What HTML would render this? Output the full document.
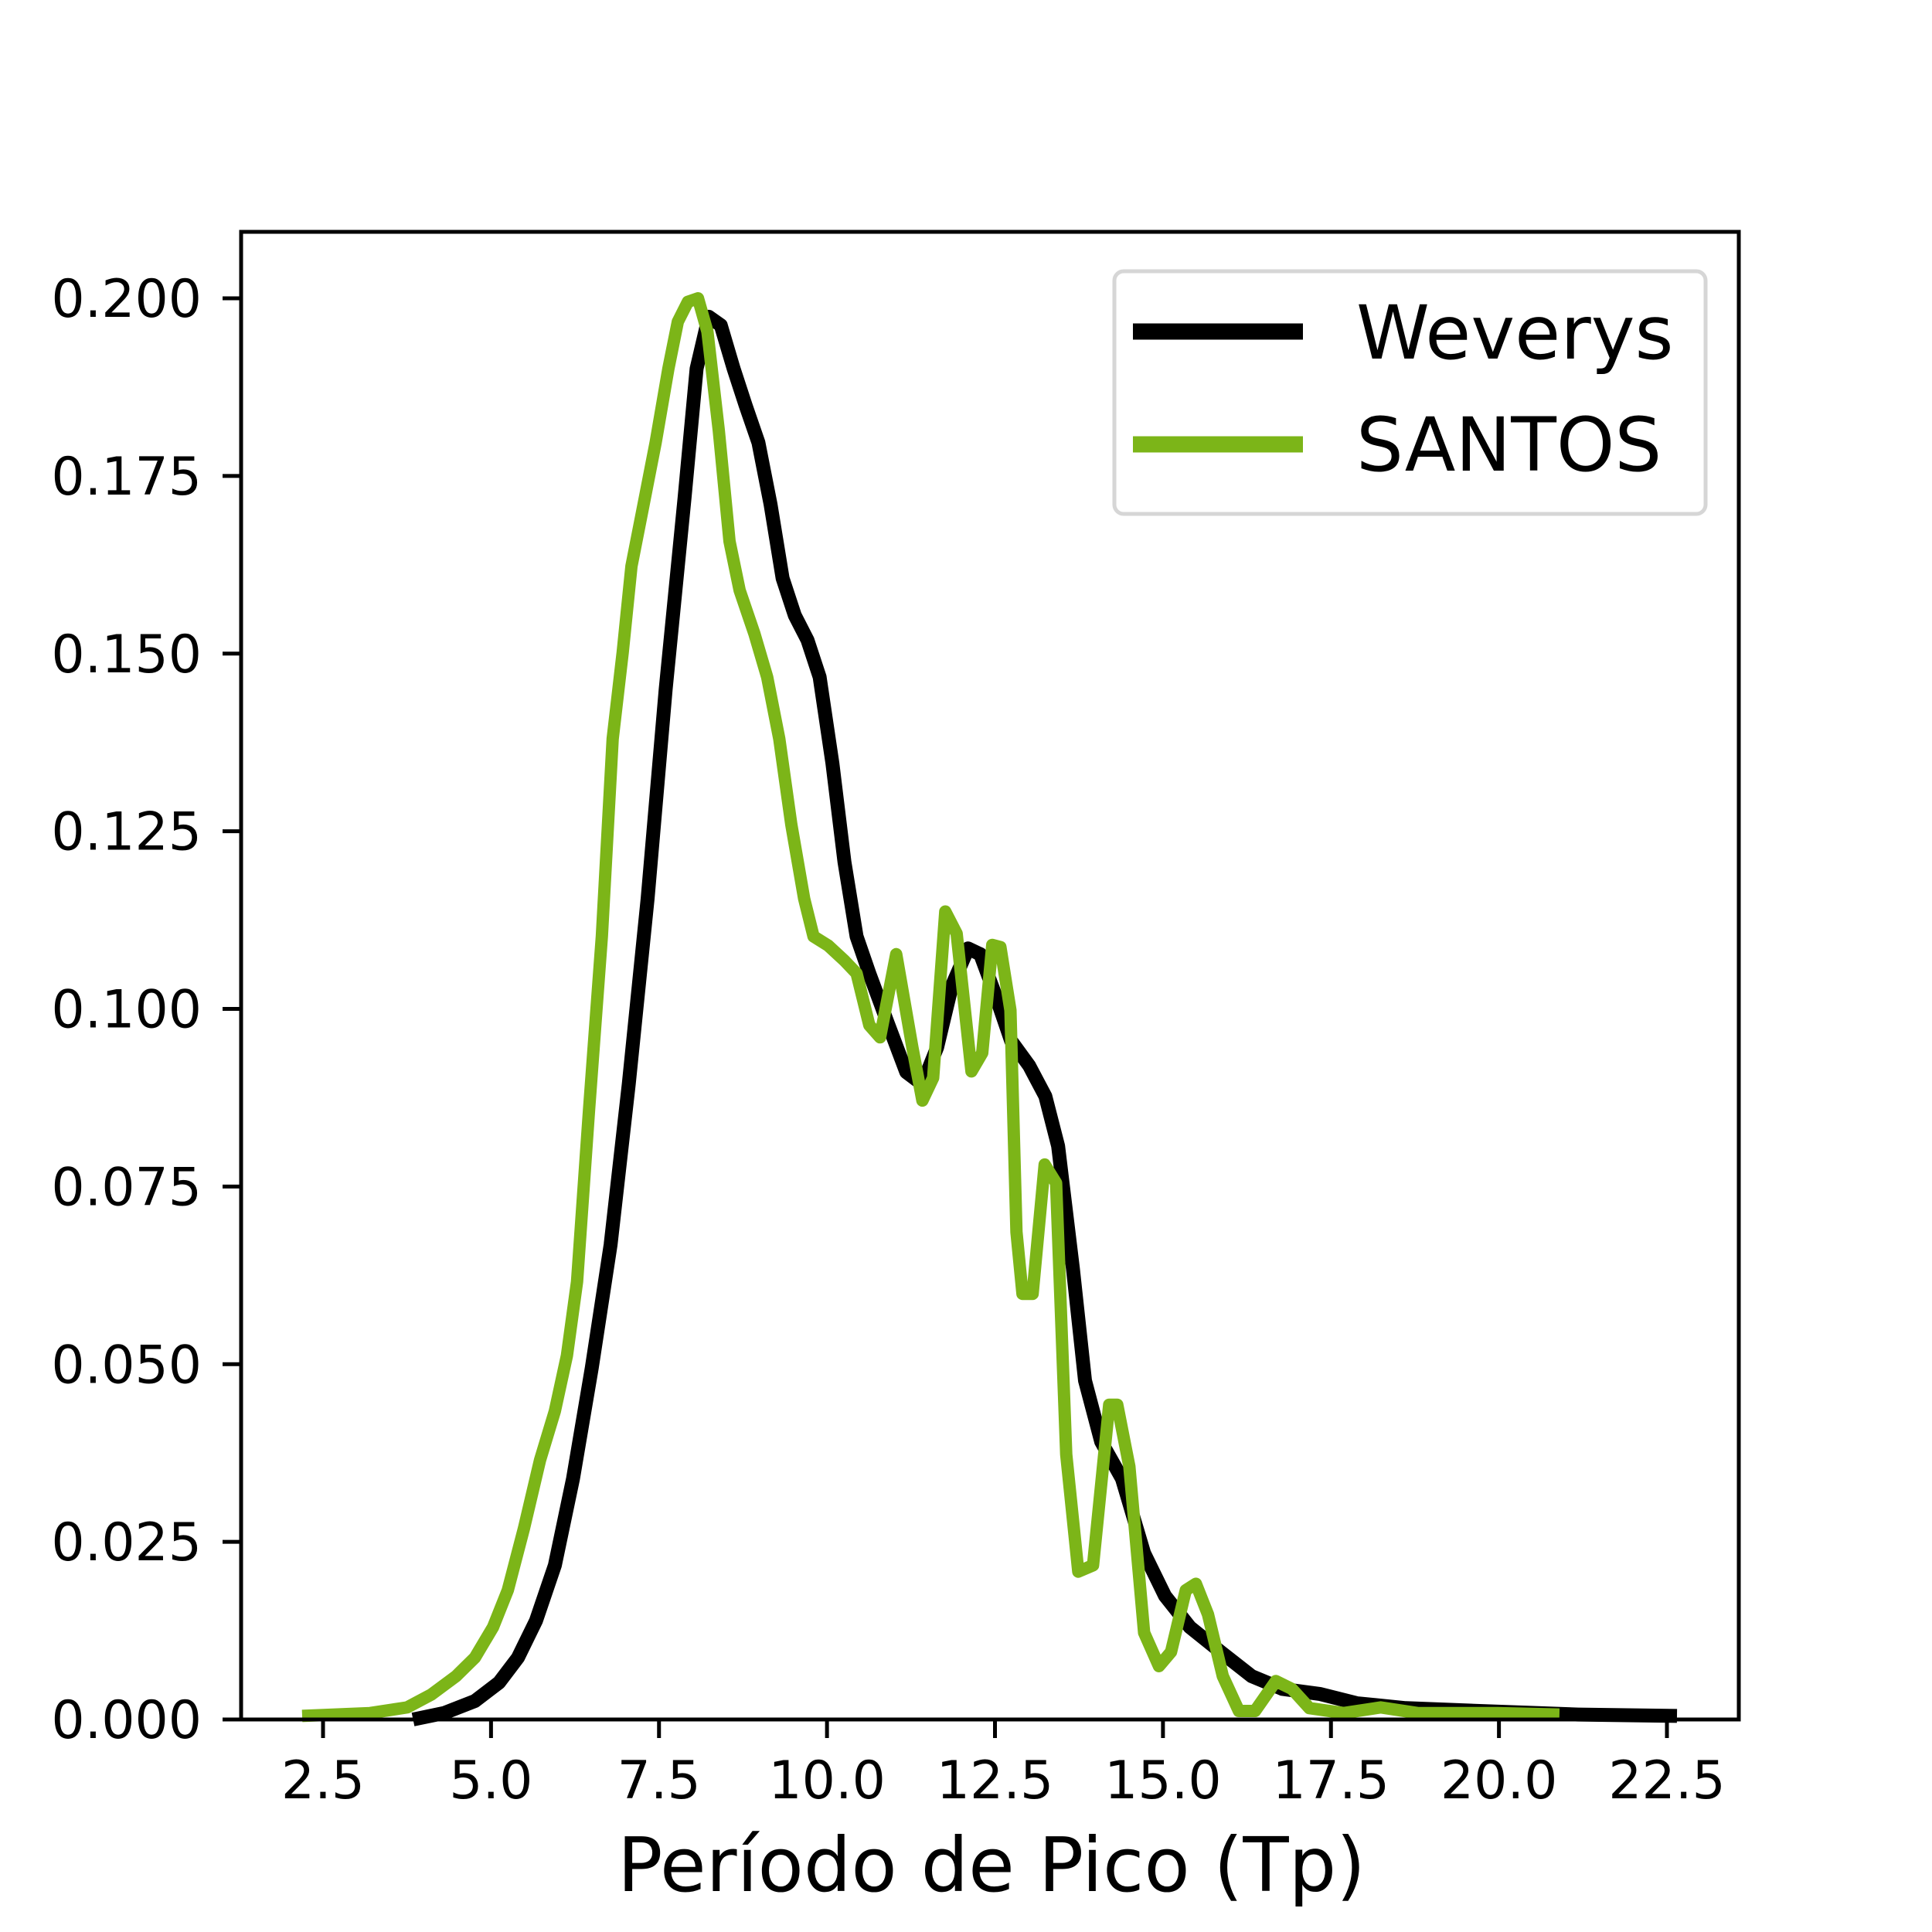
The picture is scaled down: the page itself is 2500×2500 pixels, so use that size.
<!DOCTYPE html>
<html><head><meta charset="utf-8"><style>
html,body{margin:0;padding:0;background:#fff}
svg{display:block}
text{font-family:"DejaVu Sans","Liberation Sans",sans-serif;fill:#000}
</style></head><body>
<svg id="chart" width="2500" height="2500" viewBox="0 0 2500 2500">
<g id="plot"></g>
</svg>
<script>
const xTicks=[2.5,5.0,7.5,10.0,12.5,15.0,17.5,20.0,22.5];
const yTicks=[0,0.025,0.05,0.075,0.1,0.125,0.15,0.175,0.2];
const wevX=[3.84,4.30,4.76,5.12,5.40,5.67,5.95,6.22,6.50,6.78,7.05,7.33,7.60,7.88,8.06,8.24,8.42,8.61,8.79,8.98,9.16,9.34,9.52,9.71,9.89,10.08,10.26,10.44,10.63,10.90,11.18,11.42,11.64,11.86,12.10,12.28,12.52,12.74,13.01,13.25,13.44,13.66,13.84,14.08,14.39,14.72,15.03,15.40,15.86,16.32,16.78,17.33,17.88,18.61,19.71,21.18,22.65];
const wevY=[0,0.0009,0.0026,0.0052,0.0087,0.0139,0.0217,0.0339,0.0495,0.0668,0.0894,0.1155,0.1450,0.1719,0.1901,0.1974,0.1962,0.1901,0.1849,0.1797,0.1710,0.1606,0.1554,0.1519,0.1467,0.1346,0.1207,0.1102,0.1050,0.0981,0.0911,0.0894,0.0946,0.1033,0.1085,0.1077,0.1016,0.0955,0.0920,0.0877,0.0807,0.0634,0.0477,0.0391,0.0339,0.0234,0.0174,0.0130,0.0095,0.0061,0.0043,0.0036,0.0023,0.0016,0.0012,0.0007,0.0005];
const sanX=[2.19,3.20,3.75,4.11,4.48,4.76,5.03,5.25,5.49,5.73,5.95,6.13,6.28,6.46,6.65,6.81,6.96,7.09,7.27,7.45,7.64,7.78,7.93,8.08,8.22,8.39,8.55,8.70,8.92,9.11,9.29,9.47,9.66,9.80,10.02,10.26,10.44,10.63,10.79,11.03,11.27,11.42,11.58,11.76,11.93,12.15,12.31,12.46,12.58,12.73,12.82,12.91,13.06,13.24,13.41,13.56,13.74,13.96,14.20,14.32,14.50,14.72,14.94,15.12,15.34,15.49,15.67,15.89,16.13,16.37,16.68,16.92,17.18,17.69,18.24,18.79,19.98,20.90];
const sanY=[0.0005,0.0009,0.0017,0.0035,0.0061,0.0087,0.0130,0.0182,0.0269,0.0365,0.0434,0.0512,0.0616,0.0859,0.1102,0.1380,0.1502,0.1623,0.1710,0.1797,0.1901,0.1967,0.1995,0.2000,0.1953,0.1814,0.1658,0.1589,0.1528,0.1467,0.1380,0.1259,0.1155,0.1102,0.1089,0.1068,0.1050,0.0977,0.0960,0.1077,0.0946,0.0871,0.0903,0.1137,0.1106,0.0912,0.0938,0.1090,0.1087,0.0998,0.0686,0.0599,0.0599,0.0781,0.0755,0.0373,0.0208,0.0217,0.0443,0.0443,0.0356,0.0122,0.0075,0.0095,0.0182,0.0191,0.0148,0.0061,0.0012,0.0012,0.0054,0.0043,0.0016,0.0009,0.0017,0.0009,0.0009,0.0007];

const NS='http://www.w3.org/2000/svg';
const g=document.getElementById('plot');
const L=312,R=2250,T=300,B=2225;
const sx=v=>418+(v-2.5)*86.95;
const sy=v=>2225-v/0.2*1839;
function mk(tag,attrs,parent){const e=document.createElementNS(NS,tag);for(const k in attrs)e.setAttribute(k,attrs[k]);(parent||g).appendChild(e);return e;}

function line(xs,ys,color,w,name){
  const pts=xs.map((x,i)=>sx(x).toFixed(1)+','+sy(ys[i]).toFixed(1)).join(' ');
  const p=mk('polyline',{points:pts,fill:'none',stroke:color,'stroke-width':w,'stroke-linejoin':'round','stroke-linecap':'butt'});
  
  
}
line(wevX,wevY,'#000',18,'weverys-line');
line(sanX,sanY,'#7cb518',16,'santos-line');

const frame=mk('rect',{x:L,y:T,width:R-L,height:B-T,fill:'none',stroke:'#000','stroke-width':5});



xTicks.forEach(v=>{
  const x=sx(v);
  const t=mk('line',{x1:x,y1:B,x2:x,y2:B+24,stroke:'#000','stroke-width':5});
  
  
  const lb=mk('text',{x:x,y:2327,'text-anchor':'middle','font-size':68});
  lb.textContent=v.toFixed(1);
  
  
});
yTicks.forEach(v=>{
  const y=sy(v);
  const t=mk('line',{x1:L-24,y1:y,x2:L,y2:y,stroke:'#000','stroke-width':5});
  
  
  const lb=mk('text',{x:261,y:y+24,'text-anchor':'end','font-size':68});
  lb.textContent=v.toFixed(3);
  
  
});
const xt=mk('text',{x:1283,y:2447,'text-anchor':'middle','font-size':97});
xt.textContent='Período de Pico (Tp)';



const lg=mk('g',{});


mk('rect',{x:1442,y:351,width:765,height:314,rx:12,fill:'#fff',stroke:'#d6d6d6','stroke-width':5},lg);
const e1=mk('line',{x1:1466,y1:429,x2:1686,y2:429,stroke:'#000','stroke-width':21},lg);


const t1=mk('text',{x:1755,y:464,'font-size':96},lg);
t1.textContent='Weverys';


const e2=mk('line',{x1:1466,y1:575,x2:1686,y2:575,stroke:'#7cb518','stroke-width':21},lg);


const t2=mk('text',{x:1755,y:609,'font-size':96},lg);
t2.textContent='SANTOS';


</script>
</body></html>
